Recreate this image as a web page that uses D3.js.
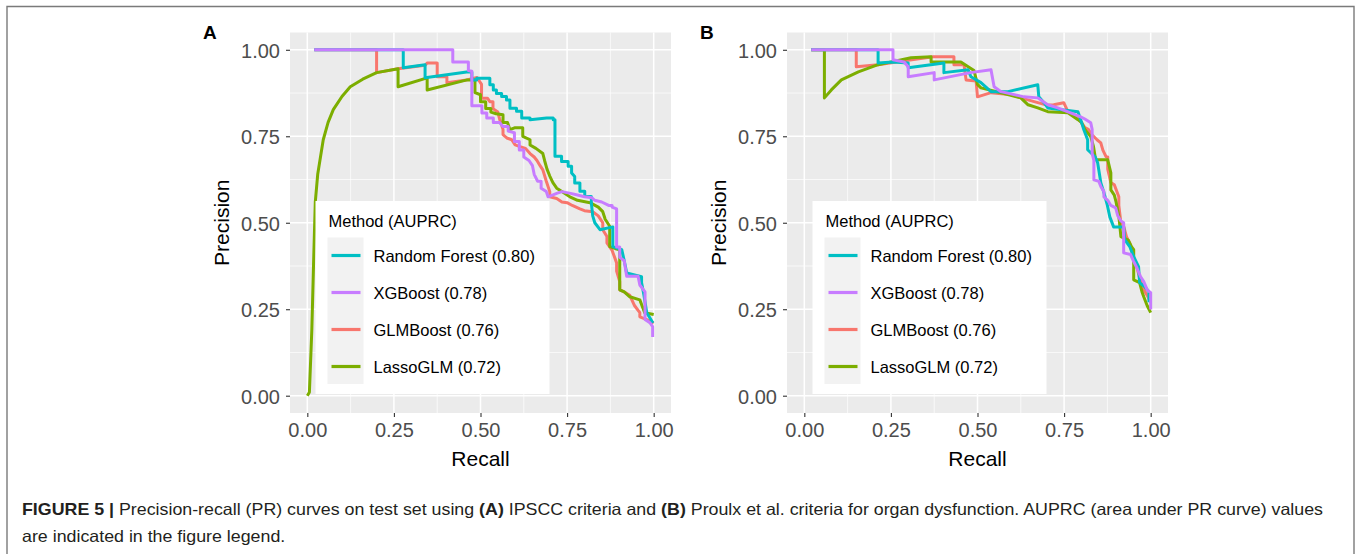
<!DOCTYPE html>
<html>
<head>
<meta charset="utf-8">
<script src="https://cdn.jsdelivr.net/npm/d3@7"></script>
<style>
  body { margin: 0; background: #fff; }
  svg { display: block; font-family: "Liberation Sans", Arial, sans-serif; }
</style>
</head>
<body>
<svg width="1358" height="554"></svg>
<script>
// ---- data (recall, precision) ----
var methods = ["GLMBoost", "LassoGLM", "Random Forest", "XGBoost"]; // draw order
var legendOrder = ["Random Forest", "XGBoost", "GLMBoost", "LassoGLM"];
var auprcA = ["0.80", "0.78", "0.76", "0.72"];
var auprcB = ["0.80", "0.78", "0.76", "0.72"];
var tickValues = [0, 0.25, 0.5, 0.75, 1];
var tickLabels = ["0.00", "0.25", "0.50", "0.75", "1.00"];

// panel A (IPSCC)
var aGLM = [[0.02,1.0],[0.20,1.0],[0.20,0.934],[0.262,0.945],[0.34,0.955],[0.346,0.962],[0.375,0.962],[0.375,0.922],[0.403,0.922],[0.403,0.905],[0.46,0.913],[0.49,0.92],[0.503,0.90],[0.503,0.86],[0.52,0.86],[0.527,0.85],[0.536,0.85],[0.536,0.83],[0.55,0.82],[0.555,0.80],[0.565,0.77],[0.565,0.755],[0.576,0.745],[0.59,0.74],[0.60,0.725],[0.614,0.72],[0.63,0.715],[0.643,0.70],[0.655,0.69],[0.663,0.68],[0.672,0.665],[0.68,0.653],[0.69,0.62],[0.70,0.59],[0.70,0.575],[0.72,0.57],[0.735,0.56],[0.75,0.558],[0.765,0.55],[0.787,0.54],[0.80,0.535],[0.824,0.532],[0.84,0.52],[0.853,0.50],[0.853,0.48],[0.865,0.46],[0.865,0.442],[0.88,0.42],[0.893,0.384],[0.893,0.36],[0.902,0.33],[0.902,0.306],[0.915,0.30],[0.931,0.29],[0.945,0.26],[0.96,0.24],[0.96,0.228],[0.98,0.22],[1.0,0.21]];
var aLasso = [[0,0],[0.006,0.01],[0.013,0.19],[0.018,0.38],[0.023,0.56],[0.03,0.64],[0.046,0.74],[0.06,0.79],[0.075,0.827],[0.1,0.865],[0.124,0.893],[0.16,0.915],[0.20,0.934],[0.262,0.945],[0.262,0.893],[0.346,0.919],[0.346,0.884],[0.461,0.913],[0.484,0.913],[0.484,0.876],[0.50,0.87],[0.50,0.85],[0.515,0.85],[0.515,0.83],[0.53,0.83],[0.53,0.82],[0.545,0.815],[0.565,0.812],[0.565,0.79],[0.578,0.79],[0.585,0.769],[0.60,0.775],[0.622,0.775],[0.622,0.75],[0.643,0.74],[0.643,0.725],[0.66,0.715],[0.68,0.70],[0.685,0.68],[0.692,0.655],[0.70,0.635],[0.709,0.616],[0.72,0.60],[0.735,0.59],[0.758,0.575],[0.78,0.565],[0.816,0.558],[0.84,0.545],[0.853,0.532],[0.86,0.51],[0.873,0.49],[0.873,0.431],[0.89,0.425],[0.902,0.422],[0.902,0.306],[0.915,0.30],[0.931,0.286],[0.96,0.277],[0.974,0.24],[1.0,0.235]];
var aRF = [[0.02,1.0],[0.277,1.0],[0.277,0.948],[0.34,0.957],[0.34,0.919],[0.46,0.936],[0.475,0.936],[0.475,0.913],[0.489,0.913],[0.489,0.918],[0.527,0.918],[0.527,0.899],[0.537,0.899],[0.537,0.884],[0.546,0.884],[0.546,0.874],[0.561,0.874],[0.561,0.865],[0.575,0.865],[0.575,0.855],[0.585,0.855],[0.585,0.831],[0.604,0.831],[0.604,0.822],[0.619,0.822],[0.619,0.803],[0.643,0.803],[0.643,0.798],[0.691,0.803],[0.71,0.803],[0.71,0.798],[0.715,0.798],[0.715,0.692],[0.734,0.692],[0.734,0.677],[0.753,0.677],[0.753,0.663],[0.763,0.663],[0.763,0.644],[0.772,0.634],[0.772,0.615],[0.787,0.615],[0.787,0.591],[0.801,0.591],[0.801,0.576],[0.82,0.576],[0.82,0.557],[0.824,0.52],[0.83,0.50],[0.845,0.48],[0.882,0.488],[0.882,0.431],[0.908,0.422],[0.915,0.39],[0.922,0.355],[0.965,0.344],[0.965,0.327],[0.972,0.29],[0.98,0.24],[0.998,0.21]];
var aXGB = [[0.02,1.0],[0.42,1.0],[0.42,0.965],[0.465,0.965],[0.465,0.94],[0.475,0.938],[0.475,0.838],[0.504,0.838],[0.504,0.817],[0.518,0.817],[0.518,0.803],[0.537,0.803],[0.537,0.79],[0.555,0.79],[0.565,0.778],[0.58,0.778],[0.58,0.765],[0.598,0.76],[0.598,0.735],[0.612,0.735],[0.612,0.71],[0.625,0.71],[0.625,0.69],[0.64,0.68],[0.65,0.665],[0.655,0.64],[0.665,0.62],[0.675,0.62],[0.675,0.60],[0.69,0.59],[0.695,0.575],[0.72,0.585],[0.735,0.59],[0.76,0.585],[0.78,0.58],[0.80,0.575],[0.822,0.572],[0.83,0.565],[0.85,0.56],[0.87,0.55],[0.88,0.55],[0.88,0.545],[0.893,0.54],[0.893,0.43],[0.902,0.43],[0.902,0.40],[0.915,0.39],[0.922,0.345],[0.955,0.345],[0.96,0.32],[0.975,0.30],[0.975,0.22],[0.99,0.21],[0.997,0.2],[0.997,0.17]];

// panel B (Proulx et al.)
var bGLM = [[0.02,1.0],[0.15,1.0],[0.15,0.951],[0.213,0.957],[0.30,0.97],[0.372,0.98],[0.432,0.98],[0.432,0.957],[0.461,0.957],[0.467,0.913],[0.496,0.91],[0.50,0.864],[0.539,0.876],[0.60,0.87],[0.625,0.861],[0.70,0.84],[0.72,0.841],[0.749,0.847],[0.761,0.821],[0.78,0.81],[0.79,0.80],[0.80,0.79],[0.81,0.775],[0.82,0.77],[0.83,0.755],[0.845,0.74],[0.856,0.731],[0.862,0.71],[0.871,0.691],[0.876,0.69],[0.876,0.655],[0.885,0.616],[0.895,0.61],[0.908,0.575],[0.908,0.55],[0.914,0.5],[0.922,0.49],[0.93,0.46],[0.94,0.44],[0.95,0.4],[0.958,0.38],[0.968,0.34],[0.98,0.306],[0.99,0.29],[1.0,0.27]];
var bLasso = [[0.02,1.0],[0.058,1.0],[0.058,0.861],[0.078,0.884],[0.107,0.913],[0.156,0.936],[0.213,0.957],[0.251,0.965],[0.308,0.977],[0.366,0.98],[0.366,0.965],[0.452,0.965],[0.473,0.951],[0.49,0.94],[0.50,0.90],[0.51,0.89],[0.568,0.876],[0.625,0.861],[0.646,0.841],[0.674,0.832],[0.703,0.821],[0.761,0.818],[0.79,0.798],[0.80,0.79],[0.81,0.77],[0.818,0.76],[0.827,0.749],[0.835,0.72],[0.841,0.682],[0.876,0.682],[0.885,0.644],[0.885,0.595],[0.895,0.58],[0.90,0.56],[0.908,0.52],[0.914,0.46],[0.935,0.45],[0.945,0.43],[0.951,0.422],[0.951,0.335],[0.968,0.327],[0.975,0.30],[0.98,0.286],[0.99,0.26],[1.0,0.24]];
var bRF = [[0.02,1.0],[0.213,1.0],[0.213,0.962],[0.256,0.965],[0.30,0.962],[0.30,0.948],[0.403,0.962],[0.403,0.934],[0.473,0.942],[0.481,0.922],[0.51,0.905],[0.539,0.879],[0.588,0.879],[0.674,0.899],[0.677,0.864],[0.692,0.847],[0.703,0.832],[0.79,0.821],[0.798,0.798],[0.807,0.769],[0.818,0.74],[0.818,0.711],[0.83,0.70],[0.84,0.69],[0.847,0.673],[0.856,0.616],[0.865,0.587],[0.875,0.55],[0.882,0.517],[0.893,0.488],[0.922,0.488],[0.925,0.451],[0.94,0.43],[0.951,0.402],[0.965,0.373],[0.968,0.327],[0.983,0.315],[0.995,0.30],[0.995,0.27]];
var bXGB = [[0.02,1.0],[0.256,1.0],[0.256,0.971],[0.288,0.965],[0.30,0.951],[0.30,0.922],[0.375,0.934],[0.375,0.913],[0.48,0.934],[0.539,0.942],[0.548,0.893],[0.568,0.879],[0.634,0.864],[0.674,0.861],[0.703,0.841],[0.732,0.832],[0.798,0.806],[0.81,0.80],[0.827,0.789],[0.831,0.77],[0.831,0.70],[0.836,0.68],[0.836,0.624],[0.85,0.62],[0.856,0.605],[0.865,0.59],[0.865,0.575],[0.876,0.565],[0.885,0.55],[0.899,0.543],[0.905,0.52],[0.914,0.505],[0.922,0.5],[0.922,0.413],[0.942,0.408],[0.95,0.39],[0.96,0.37],[0.971,0.344],[0.98,0.33],[0.99,0.306],[1.0,0.298],[1.0,0.249]];

var color = d3.scaleOrdinal()
  .domain(methods)
  .range(["#F8766D", "#7CAE00", "#00BFC4", "#C77CFF"]);

var svg = d3.select("svg");
svg.append("rect").attr("width", 1358).attr("height", 554).attr("fill", "#fff");

// figure frame (top, left, right)
svg.append("path")
  .attr("d", "M7,554V6.5H1354V554")
  .attr("fill", "none").attr("stroke", "#7a7a7a").attr("stroke-width", 1.4);

function drawPanel(left, label, series, auprc) {
  var x = d3.scaleLinear().domain([-0.05, 1.05]).range([left, left + 381]);
  var y = d3.scaleLinear().domain([-0.05, 1.05]).range([413, 32.5]);
  var g = svg.append("g");

  g.append("rect")
    .attr("x", x(-0.05)).attr("y", y(1.05))
    .attr("width", x(1.05) - x(-0.05)).attr("height", y(-0.05) - y(1.05))
    .attr("fill", "#EBEBEB");

  var minor = [0.125, 0.375, 0.625, 0.875];
  g.selectAll(".mx").data(minor).enter().append("line")
    .attr("x1", d => x(d)).attr("x2", d => x(d)).attr("y1", y(1.05)).attr("y2", y(-0.05))
    .attr("stroke", "#fff").attr("stroke-width", 0.7);
  g.selectAll(".my").data(minor).enter().append("line")
    .attr("y1", d => y(d)).attr("y2", d => y(d)).attr("x1", x(-0.05)).attr("x2", x(1.05))
    .attr("stroke", "#fff").attr("stroke-width", 0.7);
  g.selectAll(".gx").data(tickValues).enter().append("line")
    .attr("x1", d => x(d)).attr("x2", d => x(d)).attr("y1", y(1.05)).attr("y2", y(-0.05))
    .attr("stroke", "#fff").attr("stroke-width", 1.5);
  g.selectAll(".gy").data(tickValues).enter().append("line")
    .attr("y1", d => y(d)).attr("y2", d => y(d)).attr("x1", x(-0.05)).attr("x2", x(1.05))
    .attr("stroke", "#fff").attr("stroke-width", 1.5);

  // curves
  var line = d3.line().x(d => x(d[0])).y(d => y(d[1]));
  methods.forEach(function(m) {
    g.append("path")
      .datum(series[m])
      .attr("d", line)
      .attr("fill", "none")
      .attr("stroke", color(m))
      .attr("stroke-width", 3)
      .attr("stroke-linejoin", "round");
  });

  // axes
  var fmt = (d, i) => tickLabels[i];
  var ax = g.append("g")
    .attr("transform", "translate(" + x(-0.05) + ",0)")
    .call(d3.axisLeft(y).tickValues(tickValues).tickFormat(fmt).tickSize(4).tickPadding(6));
  var bx = g.append("g")
    .attr("transform", "translate(0," + y(-0.05) + ")")
    .call(d3.axisBottom(x).tickValues(tickValues).tickFormat(fmt).tickSize(4).tickPadding(6));
  [ax, bx].forEach(function(a) {
    a.select(".domain").remove();
    a.selectAll("line").attr("stroke", "#333").attr("stroke-width", 1.1);
    a.selectAll("text").attr("fill", "#4D4D4D").style("font-size", "20px")
      .style("font-family", '"Liberation Sans", Arial, sans-serif');
  });
  ax.selectAll("text").attr("dy", "0.38em");

  g.append("text")
    .attr("x", (x(-0.05) + x(1.05)) / 2).attr("y", 466)
    .attr("text-anchor", "middle").style("font-size", "21px").attr("fill", "#000")
    .text("Recall");
  g.append("text")
    .attr("transform", "translate(" + (left - 61) + "," + ((y(1.05) + y(-0.05)) / 2) + ") rotate(-90)")
    .attr("text-anchor", "middle").style("font-size", "21px").attr("fill", "#000")
    .text("Precision");

  g.append("text")
    .attr("x", left - 87).attr("y", 39)
    .style("font-size", "19px").style("font-weight", "bold").attr("fill", "#000")
    .text(label);

  // legend
  var lx = left + 25.5, ly = 201;
  var lg = g.append("g").attr("transform", "translate(" + lx + "," + ly + ")");
  lg.append("rect").attr("width", 234).attr("height", 193).attr("fill", "#fff");
  lg.append("text").attr("x", 13).attr("y", 26)
    .style("font-size", "16.5px").attr("fill", "#000").text("Method (AUPRC)");
  lg.append("rect").attr("x", 12).attr("y", 36.5).attr("width", 36).attr("height", 146.5).attr("fill", "#F2F2F2");
  legendOrder.forEach(function(m, i) {
    var cy = 54.5 + i * 37;
    lg.append("line").attr("x1", 16).attr("x2", 45).attr("y1", cy).attr("y2", cy)
      .attr("stroke", color(m)).attr("stroke-width", 3.2);
    lg.append("text").attr("x", 58).attr("y", cy + 6)
      .style("font-size", "16.5px").attr("fill", "#000")
      .text(m + " (" + auprc[i] + ")");
  });
}

drawPanel(290, "A", { "GLMBoost": aGLM, "LassoGLM": aLasso, "Random Forest": aRF, "XGBoost": aXGB }, auprcA);
drawPanel(787, "B", { "GLMBoost": bGLM, "LassoGLM": bLasso, "Random Forest": bRF, "XGBoost": bXGB }, auprcB);

// caption
var cap1 = [
  ["FIGURE 5 | ", true],
  ["Precision-recall (PR) curves on test set using ", false],
  ["(A)", true],
  [" IPSCC criteria and ", false],
  ["(B)", true],
  [" Proulx et al. criteria for organ dysfunction. AUPRC (area under PR curve) values", false]
];
var t1 = svg.append("text").attr("x", 22).attr("y", 515)
  .style("font-size", "16.5px").attr("fill", "#231F20").attr("xml:space", "preserve");
cap1.forEach(function(p) {
  t1.append("tspan").style("font-weight", p[1] ? "bold" : "normal").text(p[0]);
});
var t2 = svg.append("text").attr("x", 22).attr("y", 542)
  .style("font-size", "16.5px").attr("fill", "#231F20")
  .text("are indicated in the figure legend.");
var L1 = t1.node().getComputedTextLength();
var s = 1301 / L1;
t1.attr("textLength", 1301).attr("lengthAdjust", "spacingAndGlyphs");
t2.attr("textLength", t2.node().getComputedTextLength() * s).attr("lengthAdjust", "spacingAndGlyphs");
</script>
</body>
</html>
